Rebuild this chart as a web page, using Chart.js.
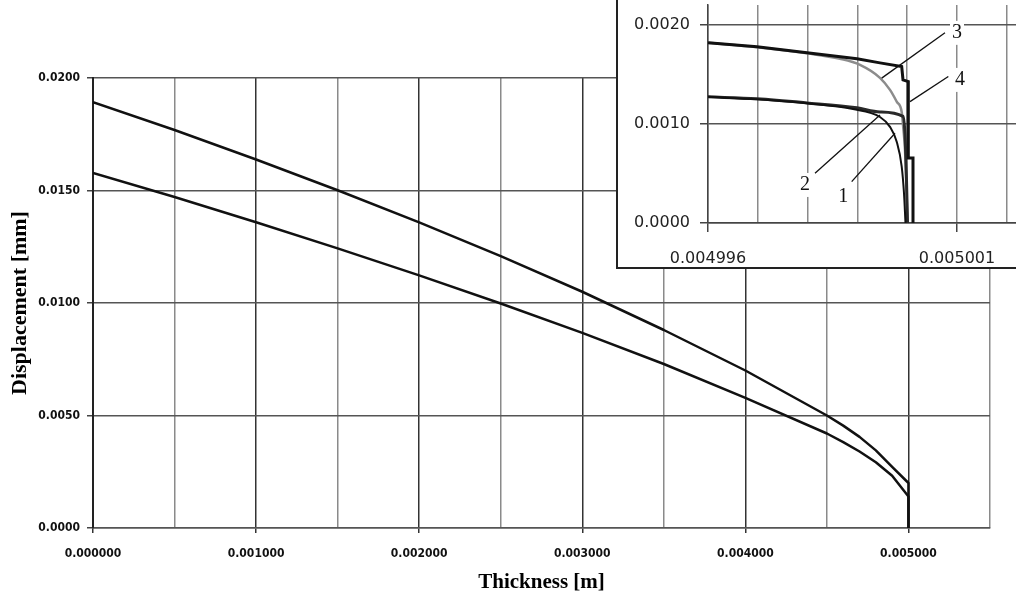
<!DOCTYPE html>
<html>
<head>
<meta charset="utf-8">
<script src="https://cdn.jsdelivr.net/npm/chart.js@4.4.1/dist/chart.umd.min.js"></script>
<style>
  html, body { margin: 0; padding: 0; background: #fff; }
  #wrap { position: relative; width: 1016px; height: 600px; overflow: hidden; }
  #main { position: absolute; left: 0; top: 0; }
  #insetBox { position: absolute; left: 616px; top: 0; width: 400px; height: 269px; background: #fff;
              border-left: 2px solid #222; border-bottom: 2px solid #222; box-sizing: border-box; }
  #inset { display: block; }
</style>
</head>
<body>
<div id="wrap">
  <canvas id="main" width="1016" height="600"></canvas>
  <div id="insetBox"><canvas id="inset" width="398" height="267"></canvas></div>
</div>
<script>
// ---- main plot: displacement over the thickness
var thickness = [0, 0.0005, 0.001, 0.0015, 0.002, 0.0025, 0.003, 0.0035, 0.004, 0.0045, 0.0046, 0.0047, 0.0048, 0.0049, 0.005, 0.005];
var dispUpper = [0.01893, 0.01769, 0.01638, 0.01501, 0.01358, 0.01208, 0.01050, 0.00880, 0.00700, 0.00500, 0.00455, 0.00405, 0.00345, 0.00272, 0.00200, 0]; // curves 3, 4
var dispLower = [0.01578, 0.01471, 0.01359, 0.01243, 0.01123, 0.00998, 0.00867, 0.00729, 0.00578, 0.00420, 0.00382, 0.00340, 0.00292, 0.00232, 0.00140, 0]; // curves 1, 2
var mainXTicks = [0, 0.0005, 0.001, 0.0015, 0.002, 0.0025, 0.003, 0.0035, 0.004, 0.0045, 0.005, 0.0055];
var mainYTicks = [0, 0.005, 0.01, 0.015, 0.02];

// ---- inset: zoom at the surface
var c1x = [0.0049960000, 0.0049969839, 0.0049979880, 0.0049989116, 0.0049994538, 0.0049996546, 0.0049997892, 0.0049998896, 0.0049999357, 0.0049999659];
var c1y = [0.001273, 0.001248, 0.001208, 0.001150, 0.001070, 0.000970, 0.000820, 0.000570, 0.000300, 0];
var c2x = [0.0049960000, 0.0049969839, 0.0049979880, 0.0049989920, 0.0049994538, 0.0049999157, 0.0049999558, 0.0049999859, 0.0050000060];
var c2y = [0.001273, 0.001253, 0.001212, 0.001162, 0.001121, 0.001076, 0.000889, 0.000434, 0];
var c3x = [0.0049960000, 0.0049969839, 0.0049979880, 0.0049986506, 0.0049990522, 0.0049994538, 0.0049996546, 0.0049997892, 0.0049998896, 0.0049999157, 0.0049999558, 0.0049999859, 0.0050000060];
var c3y = [0.001818, 0.001774, 0.001712, 0.001657, 0.001596, 0.001465, 0.001343, 0.001225, 0.001121, 0.000990, 0.000737, 0.000333, 0];
var c4x = [0.0049960000, 0.0049969839, 0.0049979880, 0.0049989920, 0.0049994538, 0.0049998896, 0.0049999157, 0.0050000221, 0.0050000221, 0.0050001165, 0.0050001165];
var c4y = [0.001818, 0.001778, 0.001717, 0.001657, 0.001616, 0.001579, 0.001444, 0.001427, 0.000657, 0.000657, 0];
var insetXTicks = [0.004996, 0.004997, 0.004998, 0.004999, 0.005000, 0.005001, 0.005002];
var insetXLabels = [0.004996, 0.005001];
var insetYTicks = [0, 0.001, 0.002];

// curve numbers with their leader lines (data coords)
var curveNames = ['1', '2', '3', '4'];
var nameAt     = [[0.0049987169, 0.000266], [0.0049979478, 0.000384], [0.0050010000, 0.001919], [0.0050010602, 0.001444]];
var leaderFrom = [[0.0049988855, 0.000417], [0.0049981486, 0.000502], [0.0050007590, 0.001920], [0.0050008257, 0.001478]];
var leaderTo   = [[0.0049997550, 0.000906], [0.0049994538, 0.001091], [0.0049994880, 0.001462], [0.0050000562, 0.001225]];

function pts(xs, ys) { return xs.map(function (x, i) { return { x: x, y: ys[i] }; }); }
function near(a, b) { return Math.abs(a - b) < 1e-10; }
function isMajor(v) { return Math.abs(v * 1000 - Math.round(v * 1000)) < 1e-6; }
function isInsetLabel(v) { return insetXLabels.some(function (l) { return near(l, v); }); }

var line = { pointRadius: 0, tension: 0, fill: false, borderJoinStyle: 'round' };
var smooth = { pointRadius: 0, fill: false, cubicInterpolationMode: 'monotone' };
var tickFont = { family: '"DejaVu Sans Condensed", "DejaVu Sans"', size: 12, weight: 'bold' };

new Chart(document.getElementById('main'), {
  type: 'line',
  data: {
    datasets: [
      Object.assign({ label: '3, 4', data: pts(thickness, dispUpper), borderColor: '#111', borderWidth: 2.5 }, line),
      Object.assign({ label: '1, 2', data: pts(thickness, dispLower), borderColor: '#111', borderWidth: 2.5 }, line)
    ]
  },
  options: {
    responsive: false,
    animation: false,
    layout: { padding: { top: 78, right: 26, left: 0, bottom: 0 } },
    plugins: { legend: { display: false }, tooltip: { enabled: false } },
    scales: {
      x: {
        type: 'linear', min: 0, max: 0.0055,
        afterBuildTicks: function (s) { s.ticks = mainXTicks.map(function (v) { return { value: v }; }); },
        afterFit: function (s) { s.height = 72; },
        grid: {
          color: function (c) { return c.tick && isMajor(c.tick.value) ? '#333' : '#8a8a8a'; },
          lineWidth: 1.5, tickLength: 5,
          tickColor: function (c) { return c.tick && isMajor(c.tick.value) ? '#333' : 'rgba(0,0,0,0)'; }
        },
        border: { color: '#555', width: 1.5 },
        ticks: {
          autoSkip: false, maxRotation: 0, minRotation: 0, padding: 14, color: '#111', font: tickFont,
          callback: function (v) { return isMajor(v) ? v.toFixed(6) : ''; }
        },
        title: { display: true, text: 'Thickness [m]', color: '#000',
                 font: { family: 'Liberation Serif', size: 21, weight: 'bold' }, padding: { top: 0, bottom: 5 } }
      },
      y: {
        type: 'linear', min: 0, max: 0.02,
        afterBuildTicks: function (s) { s.ticks = mainYTicks.map(function (v) { return { value: v }; }); },
        afterFit: function (s) { s.width = 93; },
        grid: { color: '#555', lineWidth: 1.5, tickLength: 6, tickColor: '#444' },
        border: { color: '#222', width: 2 },
        ticks: {
          padding: 7, color: '#111', font: tickFont,
          callback: function (v) { return v.toFixed(4); }
        },
        title: { display: true, text: 'Displacement [mm]', color: '#000',
                 font: { family: 'Liberation Serif', size: 22, weight: 'bold' }, padding: { top: 7, bottom: 0 } }
      }
    }
  }
});

var curveNumbers = {
  id: 'curveNumbers',
  afterDatasetsDraw: function (chart) {
    var ctx = chart.ctx, xs = chart.scales.x, ys = chart.scales.y;
    ctx.save();
    ctx.font = '20px "Liberation Serif"';
    ctx.textAlign = 'center';
    ctx.textBaseline = 'middle';
    curveNames.forEach(function (t, i) {
      var tx = xs.getPixelForValue(nameAt[i][0]), ty = ys.getPixelForValue(nameAt[i][1]);
      ctx.fillStyle = '#fff';
      ctx.fillRect(tx - 7, ty - 12, 14, 24);
      ctx.strokeStyle = '#111';
      ctx.lineWidth = 1.3;
      ctx.beginPath();
      ctx.moveTo(xs.getPixelForValue(leaderFrom[i][0]), ys.getPixelForValue(leaderFrom[i][1]));
      ctx.lineTo(xs.getPixelForValue(leaderTo[i][0]), ys.getPixelForValue(leaderTo[i][1]));
      ctx.stroke();
      ctx.fillStyle = '#111';
      ctx.fillText(t, tx, ty);
    });
    ctx.restore();
  }
};

new Chart(document.getElementById('inset'), {
  type: 'line',
  data: {
    datasets: [
      Object.assign({ label: '4', data: pts(c4x, c4y), borderColor: '#111', borderWidth: 3 }, line, { borderJoinStyle: 'miter' }),
      Object.assign({ label: '1', data: pts(c1x, c1y), borderColor: '#111', borderWidth: 2 }, smooth),
      Object.assign({ label: '2', data: pts(c2x, c2y), borderColor: '#2a2a2a', borderWidth: 3 }, smooth),
      Object.assign({ label: '3', data: pts(c3x, c3y), borderColor: '#8c8c8c', borderWidth: 2.5 }, smooth)
    ]
  },
  options: {
    responsive: false,
    animation: false,
    layout: { padding: { top: 5, right: 0, left: 0, bottom: 0 } },
    plugins: { legend: { display: false }, tooltip: { enabled: false } },
    scales: {
      x: {
        type: 'linear', min: 0.004996, max: 0.0050021847,
        afterBuildTicks: function (s) { s.ticks = insetXTicks.map(function (v) { return { value: v }; }); },
        afterFit: function (s) { s.height = 44; s.paddingLeft = 0; s.paddingRight = 0; },
        grid: {
          color: '#8a8a8a', lineWidth: 1.5, tickLength: 9,
          tickColor: function (c) { return c.tick && isInsetLabel(c.tick.value) ? '#444' : 'rgba(0,0,0,0)'; }
        },
        border: { color: '#444', width: 1.5 },
        ticks: {
          autoSkip: false, maxRotation: 0, minRotation: 0, padding: 17, color: '#222',
          font: { family: 'DejaVu Sans', size: 16 },
          callback: function (v) { return isInsetLabel(v) ? v.toFixed(6) : ''; }
        }
      },
      y: {
        type: 'linear', min: 0, max: 0.0022,
        afterBuildTicks: function (s) { s.ticks = insetYTicks.map(function (v) { return { value: v }; }); },
        afterFit: function (s) { s.width = 90; s.paddingTop = 0; s.paddingBottom = 0; },
        grid: { color: '#555', lineWidth: 1.5, tickLength: 8, tickColor: '#444' },
        border: { color: '#444', width: 1.5 },
        ticks: {
          padding: 10, color: '#222', font: { family: 'DejaVu Sans', size: 16 },
          callback: function (v) { return v.toFixed(4); }
        }
      }
    }
  },
  plugins: [curveNumbers]
});
</script>
</body>
</html>
